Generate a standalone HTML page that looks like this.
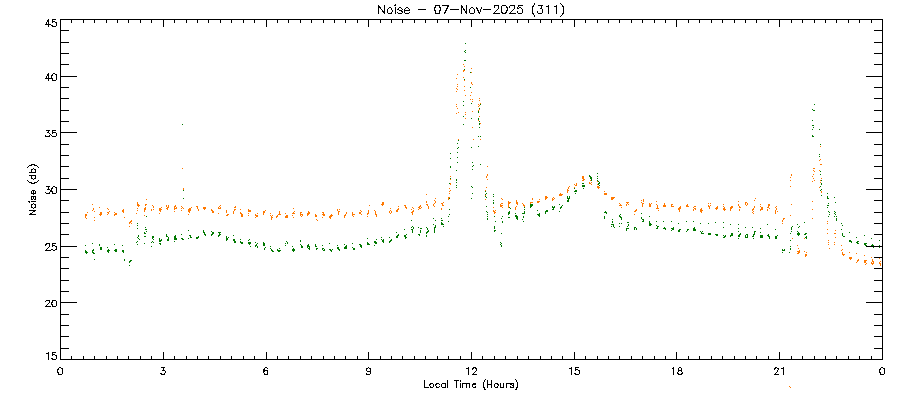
<!DOCTYPE html>
<html><head><meta charset="utf-8"><style>
html,body{margin:0;padding:0;background:#fff;width:900px;height:400px;overflow:hidden}
svg{display:block}
</style></head><body>
<svg width="900" height="400" viewBox="0 0 900 400">
<path d="M60.5,19.5H882.5V359.5H60.5ZM60.5,359.5v-8M60.5,19.5v7M71.5,359.5v-4M71.5,19.5v3M83.5,359.5v-4M83.5,19.5v3M94.5,359.5v-4M94.5,19.5v3M106.5,359.5v-4M106.5,19.5v3M117.5,359.5v-4M117.5,19.5v3M128.5,359.5v-4M128.5,19.5v3M140.5,359.5v-4M140.5,19.5v3M151.5,359.5v-4M151.5,19.5v3M163.5,359.5v-8M163.5,19.5v7M174.5,359.5v-4M174.5,19.5v3M186.5,359.5v-4M186.5,19.5v3M197.5,359.5v-4M197.5,19.5v3M208.5,359.5v-4M208.5,19.5v3M220.5,359.5v-4M220.5,19.5v3M231.5,359.5v-4M231.5,19.5v3M243.5,359.5v-4M243.5,19.5v3M254.5,359.5v-4M254.5,19.5v3M266.5,359.5v-8M266.5,19.5v7M277.5,359.5v-4M277.5,19.5v3M288.5,359.5v-4M288.5,19.5v3M300.5,359.5v-4M300.5,19.5v3M311.5,359.5v-4M311.5,19.5v3M323.5,359.5v-4M323.5,19.5v3M334.5,359.5v-4M334.5,19.5v3M345.5,359.5v-4M345.5,19.5v3M357.5,359.5v-4M357.5,19.5v3M368.5,359.5v-8M368.5,19.5v7M380.5,359.5v-4M380.5,19.5v3M391.5,359.5v-4M391.5,19.5v3M402.5,359.5v-4M402.5,19.5v3M414.5,359.5v-4M414.5,19.5v3M425.5,359.5v-4M425.5,19.5v3M437.5,359.5v-4M437.5,19.5v3M448.5,359.5v-4M448.5,19.5v3M460.5,359.5v-4M460.5,19.5v3M471.5,359.5v-8M471.5,19.5v7M482.5,359.5v-4M482.5,19.5v3M494.5,359.5v-4M494.5,19.5v3M505.5,359.5v-4M505.5,19.5v3M517.5,359.5v-4M517.5,19.5v3M528.5,359.5v-4M528.5,19.5v3M540.5,359.5v-4M540.5,19.5v3M551.5,359.5v-4M551.5,19.5v3M562.5,359.5v-4M562.5,19.5v3M574.5,359.5v-8M574.5,19.5v7M585.5,359.5v-4M585.5,19.5v3M597.5,359.5v-4M597.5,19.5v3M608.5,359.5v-4M608.5,19.5v3M619.5,359.5v-4M619.5,19.5v3M631.5,359.5v-4M631.5,19.5v3M642.5,359.5v-4M642.5,19.5v3M654.5,359.5v-4M654.5,19.5v3M665.5,359.5v-4M665.5,19.5v3M676.5,359.5v-8M676.5,19.5v7M688.5,359.5v-4M688.5,19.5v3M699.5,359.5v-4M699.5,19.5v3M711.5,359.5v-4M711.5,19.5v3M722.5,359.5v-4M722.5,19.5v3M734.5,359.5v-4M734.5,19.5v3M745.5,359.5v-4M745.5,19.5v3M756.5,359.5v-4M756.5,19.5v3M768.5,359.5v-4M768.5,19.5v3M779.5,359.5v-8M779.5,19.5v7M791.5,359.5v-4M791.5,19.5v3M802.5,359.5v-4M802.5,19.5v3M814.5,359.5v-4M814.5,19.5v3M825.5,359.5v-4M825.5,19.5v3M836.5,359.5v-4M836.5,19.5v3M848.5,359.5v-4M848.5,19.5v3M859.5,359.5v-4M859.5,19.5v3M871.5,359.5v-4M871.5,19.5v3M882.5,359.5v-8M882.5,19.5v7M60.5,359.5h16M882.5,359.5h-17M60.5,348.5h8M882.5,348.5h-9M60.5,336.5h8M882.5,336.5h-9M60.5,325.5h8M882.5,325.5h-9M60.5,314.5h8M882.5,314.5h-9M60.5,302.5h16M882.5,302.5h-17M60.5,291.5h8M882.5,291.5h-9M60.5,280.5h8M882.5,280.5h-9M60.5,268.5h8M882.5,268.5h-9M60.5,257.5h8M882.5,257.5h-9M60.5,246.5h16M882.5,246.5h-17M60.5,234.5h8M882.5,234.5h-9M60.5,223.5h8M882.5,223.5h-9M60.5,212.5h8M882.5,212.5h-9M60.5,200.5h8M882.5,200.5h-9M60.5,189.5h16M882.5,189.5h-17M60.5,178.5h8M882.5,178.5h-9M60.5,166.5h8M882.5,166.5h-9M60.5,155.5h8M882.5,155.5h-9M60.5,144.5h8M882.5,144.5h-9M60.5,132.5h16M882.5,132.5h-17M60.5,121.5h8M882.5,121.5h-9M60.5,110.5h8M882.5,110.5h-9M60.5,98.5h8M882.5,98.5h-9M60.5,87.5h8M882.5,87.5h-9M60.5,76.5h16M882.5,76.5h-17M60.5,64.5h8M882.5,64.5h-9M60.5,53.5h8M882.5,53.5h-9M60.5,42.5h8M882.5,42.5h-9M60.5,30.5h8M882.5,30.5h-9M60.5,19.5h16M882.5,19.5h-17" stroke="#000" stroke-width="1" fill="none" shape-rendering="crispEdges"/>
<path d="M59.5,367.5L58.5,368.5L57.5,370.5L57.5,371.5L58.5,373.5L58.5,374.5L59.5,374.5L60.5,374.5L61.5,374.5L62.5,373.5L62.5,371.5L62.5,370.5L62.5,368.5L61.5,368.5L60.5,367.5L59.5,367.5M161.5,367.5L164.5,367.5L162.5,370.5L163.5,370.5L164.5,370.5L165.5,371.5L165.5,372.5L164.5,373.5L164.5,374.5L163.5,374.5L162.5,374.5L161.5,374.5L161.5,373.5L160.5,373.5M267.5,368.5L266.5,367.5L265.5,367.5L264.5,368.5L263.5,370.5L263.5,372.5L264.5,373.5L264.5,374.5L265.5,374.5L266.5,374.5L267.5,374.5L267.5,373.5L267.5,372.5L267.5,371.5L267.5,370.5L266.5,370.5L265.5,370.5L264.5,370.5L264.5,371.5L263.5,372.5M370.5,369.5L370.5,370.5L369.5,371.5L368.5,371.5L367.5,371.5L366.5,370.5L366.5,369.5L366.5,368.5L367.5,368.5L368.5,367.5L369.5,368.5L370.5,368.5L370.5,369.5L370.5,371.5L370.5,373.5L369.5,374.5L368.5,374.5L367.5,374.5L366.5,374.5L366.5,373.5M466.5,368.5L467.5,368.5L468.5,367.5L468.5,374.5M472.5,369.5L472.5,368.5L473.5,368.5L473.5,367.5L475.5,367.5L475.5,368.5L476.5,368.5L476.5,369.5L476.5,370.5L475.5,371.5L472.5,374.5L476.5,374.5M569.5,368.5L570.5,368.5L571.5,367.5L571.5,374.5M578.5,367.5L575.5,367.5L575.5,370.5L576.5,369.5L577.5,369.5L578.5,370.5L579.5,370.5L579.5,371.5L579.5,372.5L579.5,373.5L578.5,374.5L577.5,374.5L576.5,374.5L575.5,374.5L575.5,373.5L574.5,373.5M672.5,368.5L673.5,367.5L673.5,374.5M679.5,367.5L678.5,368.5L678.5,369.5L678.5,370.5L680.5,370.5L681.5,370.5L681.5,371.5L682.5,372.5L682.5,373.5L681.5,373.5L681.5,374.5L680.5,374.5L679.5,374.5L678.5,374.5L678.5,373.5L677.5,373.5L677.5,372.5L678.5,371.5L678.5,370.5L679.5,370.5L680.5,370.5L681.5,369.5L681.5,368.5L680.5,367.5L679.5,367.5M774.5,369.5L774.5,368.5L775.5,368.5L775.5,367.5L776.5,367.5L777.5,368.5L778.5,368.5L778.5,369.5L777.5,370.5L777.5,371.5L774.5,374.5L778.5,374.5M781.5,368.5L782.5,368.5L783.5,367.5L783.5,374.5M881.5,367.5L880.5,368.5L879.5,370.5L879.5,371.5L880.5,373.5L880.5,374.5L881.5,374.5L882.5,374.5L883.5,374.5L884.5,373.5L884.5,371.5L884.5,370.5L884.5,368.5L883.5,368.5L882.5,367.5L881.5,367.5M46.5,353.5L47.5,353.5L48.5,352.5L48.5,359.5M55.5,352.5L52.5,352.5L52.5,355.5L53.5,354.5L54.5,354.5L55.5,355.5L56.5,355.5L56.5,356.5L56.5,357.5L56.5,358.5L55.5,359.5L54.5,359.5L53.5,359.5L52.5,359.5L52.5,358.5L51.5,358.5M45.5,301.5L46.5,300.5L47.5,300.5L48.5,300.5L49.5,300.5L49.5,301.5L49.5,302.5L48.5,303.5L45.5,306.5L50.5,306.5M53.5,300.5L52.5,300.5L52.5,301.5L51.5,303.5L52.5,305.5L52.5,306.5L53.5,306.5L54.5,306.5L55.5,306.5L56.5,305.5L56.5,303.5L56.5,301.5L55.5,300.5L54.5,300.5L53.5,300.5M45.5,245.5L45.5,244.5L46.5,244.5L46.5,243.5L47.5,243.5L48.5,243.5L49.5,243.5L49.5,244.5L49.5,245.5L49.5,246.5L48.5,247.5L45.5,250.5L50.5,250.5M55.5,243.5L52.5,243.5L52.5,246.5L53.5,245.5L54.5,245.5L55.5,246.5L56.5,246.5L56.5,247.5L56.5,248.5L56.5,249.5L55.5,249.5L54.5,250.5L53.5,250.5L52.5,249.5L51.5,249.5M46.5,186.5L49.5,186.5L47.5,189.5L48.5,189.5L49.5,189.5L50.5,190.5L50.5,191.5L49.5,192.5L49.5,193.5L48.5,193.5L47.5,193.5L46.5,193.5L45.5,192.5M53.5,186.5L52.5,187.5L51.5,189.5L51.5,190.5L52.5,192.5L52.5,193.5L53.5,193.5L54.5,193.5L55.5,193.5L56.5,192.5L56.5,190.5L56.5,189.5L56.5,187.5L55.5,187.5L54.5,186.5L53.5,186.5M46.5,130.5L49.5,130.5L47.5,132.5L48.5,132.5L49.5,133.5L50.5,134.5L49.5,135.5L49.5,136.5L48.5,136.5L47.5,136.5L46.5,136.5L45.5,136.5L45.5,135.5M55.5,130.5L52.5,130.5L52.5,133.5L52.5,132.5L53.5,132.5L54.5,132.5L55.5,132.5L56.5,133.5L56.5,134.5L56.5,135.5L55.5,136.5L54.5,136.5L53.5,136.5L52.5,136.5L51.5,135.5M48.5,73.5L45.5,78.5L50.5,78.5M48.5,73.5L48.5,80.5M53.5,73.5L52.5,74.5L51.5,76.5L51.5,77.5L52.5,79.5L52.5,80.5L53.5,80.5L54.5,80.5L55.5,80.5L56.5,79.5L56.5,77.5L56.5,76.5L56.5,74.5L55.5,74.5L54.5,73.5L53.5,73.5M48.5,19.5L45.5,24.5L50.5,24.5M48.5,19.5L48.5,26.5M55.5,19.5L52.5,19.5L52.5,22.5L53.5,21.5L54.5,21.5L55.5,22.5L56.5,22.5L56.5,23.5L56.5,24.5L56.5,25.5L55.5,26.5L54.5,26.5L53.5,26.5L52.5,26.5L52.5,25.5L51.5,25.5M378.5,5.5L378.5,13.5M378.5,5.5L384.5,13.5M384.5,5.5L384.5,13.5M389.5,7.5L388.5,8.5L387.5,9.5L387.5,10.5L387.5,11.5L387.5,12.5L388.5,13.5L389.5,13.5L390.5,13.5L391.5,13.5L391.5,12.5L392.5,11.5L392.5,10.5L391.5,9.5L391.5,8.5L390.5,7.5L389.5,7.5M394.5,5.5L395.5,5.5L395.5,4.5L394.5,5.5M395.5,7.5L395.5,13.5M402.5,9.5L401.5,8.5L400.5,7.5L399.5,7.5L398.5,8.5L397.5,9.5L398.5,9.5L399.5,10.5L401.5,10.5L401.5,11.5L402.5,11.5L402.5,12.5L401.5,13.5L400.5,13.5L399.5,13.5L398.5,13.5L397.5,12.5M404.5,10.5L409.5,10.5L409.5,9.5L408.5,8.5L407.5,7.5L406.5,7.5L405.5,8.5L404.5,9.5L404.5,10.5L404.5,11.5L404.5,12.5L405.5,13.5L406.5,13.5L407.5,13.5L408.5,13.5L409.5,12.5M418.5,9.5L425.5,9.5M437.5,5.5L435.5,5.5L435.5,6.5L434.5,8.5L434.5,9.5L435.5,11.5L435.5,13.5L437.5,13.5L439.5,13.5L439.5,11.5L440.5,9.5L440.5,8.5L439.5,6.5L439.5,5.5L437.5,5.5M448.5,5.5L444.5,13.5M442.5,5.5L448.5,5.5M450.5,9.5L458.5,9.5M461.5,5.5L461.5,13.5M461.5,5.5L466.5,13.5M466.5,5.5L466.5,13.5M471.5,7.5L470.5,8.5L469.5,9.5L469.5,10.5L469.5,11.5L469.5,12.5L470.5,13.5L471.5,13.5L472.5,13.5L473.5,13.5L474.5,12.5L474.5,11.5L474.5,10.5L474.5,9.5L473.5,8.5L472.5,7.5L471.5,7.5M476.5,7.5L479.5,13.5M481.5,7.5L479.5,13.5M483.5,9.5L490.5,9.5M494.5,7.5L494.5,6.5L494.5,5.5L495.5,5.5L497.5,5.5L498.5,5.5L498.5,6.5L498.5,7.5L498.5,8.5L497.5,9.5L493.5,13.5L499.5,13.5M503.5,5.5L502.5,5.5L501.5,6.5L501.5,8.5L501.5,9.5L501.5,11.5L502.5,13.5L503.5,13.5L504.5,13.5L505.5,13.5L506.5,11.5L507.5,9.5L507.5,8.5L506.5,6.5L505.5,5.5L504.5,5.5L503.5,5.5M509.5,7.5L509.5,6.5L510.5,5.5L511.5,5.5L513.5,5.5L514.5,5.5L514.5,6.5L514.5,7.5L514.5,8.5L513.5,9.5L509.5,13.5L515.5,13.5M522.5,5.5L518.5,5.5L517.5,8.5L518.5,8.5L519.5,7.5L520.5,7.5L521.5,8.5L522.5,9.5L522.5,10.5L522.5,11.5L522.5,12.5L521.5,13.5L520.5,13.5L519.5,13.5L518.5,13.5L517.5,12.5L517.5,11.5M534.5,3.5L534.5,4.5L533.5,5.5L532.5,7.5L532.5,9.5L532.5,10.5L532.5,12.5L533.5,14.5L534.5,15.5L534.5,16.5M538.5,5.5L542.5,5.5L540.5,8.5L541.5,8.5L542.5,9.5L542.5,10.5L542.5,11.5L542.5,12.5L541.5,13.5L540.5,13.5L539.5,13.5L538.5,13.5L537.5,12.5L537.5,11.5M546.5,6.5L547.5,6.5L548.5,5.5L548.5,13.5M554.5,6.5L555.5,6.5L556.5,5.5L556.5,13.5M560.5,3.5L561.5,4.5L562.5,5.5L563.5,7.5L563.5,9.5L563.5,10.5L563.5,12.5L562.5,14.5L561.5,15.5L560.5,16.5M424.5,380.5L424.5,387.5M424.5,387.5L428.5,387.5M431.5,383.5L430.5,383.5L430.5,384.5L429.5,384.5L429.5,385.5L430.5,386.5L430.5,387.5L431.5,387.5L432.5,387.5L433.5,386.5L433.5,385.5L433.5,384.5L432.5,383.5L431.5,383.5M439.5,384.5L438.5,383.5L437.5,383.5L436.5,383.5L436.5,384.5L435.5,384.5L435.5,385.5L436.5,386.5L436.5,387.5L437.5,387.5L438.5,387.5L439.5,386.5M445.5,383.5L445.5,387.5M445.5,384.5L444.5,383.5L443.5,383.5L442.5,383.5L441.5,384.5L441.5,385.5L441.5,386.5L442.5,387.5L443.5,387.5L444.5,387.5L445.5,386.5M447.5,380.5L447.5,387.5M456.5,380.5L456.5,387.5M454.5,380.5L458.5,380.5M460.5,380.5L460.5,381.5L460.5,380.5M460.5,383.5L460.5,387.5M462.5,383.5L462.5,387.5M462.5,384.5L463.5,383.5L464.5,383.5L465.5,383.5L466.5,383.5L466.5,384.5L466.5,387.5M466.5,384.5L467.5,383.5L468.5,383.5L469.5,383.5L469.5,384.5L469.5,387.5M472.5,384.5L475.5,384.5L475.5,383.5L474.5,383.5L473.5,383.5L472.5,384.5L472.5,385.5L472.5,386.5L473.5,387.5L474.5,387.5L475.5,387.5L475.5,386.5M485.5,379.5L484.5,380.5L484.5,381.5L483.5,382.5L483.5,384.5L483.5,385.5L483.5,386.5L484.5,388.5L484.5,389.5L485.5,389.5M487.5,380.5L487.5,387.5M491.5,380.5L491.5,387.5M487.5,384.5L491.5,384.5M495.5,383.5L494.5,384.5L494.5,385.5L494.5,386.5L495.5,387.5L496.5,387.5L497.5,387.5L497.5,386.5L498.5,385.5L498.5,384.5L497.5,384.5L497.5,383.5L496.5,383.5L495.5,383.5M500.5,383.5L500.5,386.5L500.5,387.5L501.5,387.5L502.5,387.5L503.5,387.5L503.5,386.5M503.5,383.5L503.5,387.5M506.5,383.5L506.5,387.5M506.5,384.5L507.5,383.5L508.5,383.5L509.5,383.5M513.5,384.5L513.5,383.5L512.5,383.5L511.5,383.5L510.5,383.5L510.5,384.5L511.5,384.5L512.5,385.5L513.5,385.5L513.5,386.5L513.5,387.5L512.5,387.5L511.5,387.5L510.5,387.5L510.5,386.5M515.5,379.5L516.5,380.5L516.5,381.5L517.5,382.5L517.5,384.5L517.5,385.5L517.5,386.5L516.5,388.5L516.5,389.5L515.5,389.5M29.5,214.5L35.5,214.5M29.5,214.5L35.5,210.5M29.5,210.5L35.5,210.5M31.5,206.5L31.5,207.5L32.5,207.5L33.5,208.5L34.5,207.5L35.5,207.5L35.5,206.5L35.5,205.5L35.5,204.5L34.5,204.5L33.5,203.5L32.5,204.5L31.5,204.5L31.5,205.5L31.5,206.5M29.5,202.5L29.5,201.5L28.5,201.5L29.5,202.5M31.5,201.5L35.5,201.5M32.5,196.5L31.5,196.5L31.5,197.5L31.5,198.5L31.5,199.5L32.5,199.5L33.5,198.5L33.5,197.5L33.5,196.5L34.5,196.5L35.5,196.5L35.5,197.5L35.5,198.5L35.5,199.5L34.5,199.5M33.5,194.5L33.5,190.5L32.5,190.5L31.5,191.5L31.5,192.5L31.5,193.5L32.5,193.5L33.5,194.5L34.5,193.5L35.5,193.5L35.5,192.5L35.5,191.5L34.5,190.5M27.5,180.5L28.5,181.5L29.5,182.5L30.5,182.5L32.5,183.5L33.5,183.5L35.5,182.5L36.5,182.5L37.5,181.5L38.5,180.5M29.5,175.5L35.5,175.5M32.5,175.5L31.5,175.5L31.5,176.5L31.5,177.5L31.5,178.5L32.5,178.5L33.5,179.5L34.5,178.5L35.5,178.5L35.5,177.5L35.5,176.5L35.5,175.5L34.5,175.5M29.5,172.5L35.5,172.5M32.5,172.5L31.5,172.5L31.5,171.5L31.5,170.5L31.5,169.5L32.5,169.5L33.5,168.5L34.5,169.5L35.5,169.5L35.5,170.5L35.5,171.5L35.5,172.5L34.5,172.5M27.5,167.5L28.5,166.5L29.5,165.5L30.5,165.5L32.5,164.5L33.5,164.5L35.5,165.5L36.5,165.5L37.5,166.5L38.5,167.5" stroke="#000" stroke-width="1" fill="none" shape-rendering="crispEdges" stroke-linecap="square"/>
<path d="M85,214h1v1h-1zM85,215h1v1h-1zM85,216h1v1h-1zM85,217h1v1h-1zM86,214h1v1h-1zM86,215h1v1h-1zM86,218h1v1h-1zM87,212h1v1h-1zM92,204h1v1h-1zM92,210h1v1h-1zM93,208h1v1h-1zM93,209h1v1h-1zM94,211h1v1h-1zM94,217h1v1h-1zM94,220h1v1h-1zM99,207h1v1h-1zM99,214h1v1h-1zM100,212h1v1h-1zM100,213h1v1h-1zM100,214h1v1h-1zM100,215h1v1h-1zM101,212h1v1h-1zM101,213h1v1h-1zM101,214h1v1h-1zM107,208h1v1h-1zM107,212h1v1h-1zM107,214h1v1h-1zM108,209h1v1h-1zM108,212h1v1h-1zM108,213h1v1h-1zM109,211h1v1h-1zM114,212h1v1h-1zM114,214h1v1h-1zM114,215h1v1h-1zM115,213h1v1h-1zM115,214h1v1h-1zM116,213h1v1h-1zM116,214h1v1h-1zM122,210h1v1h-1zM122,211h1v1h-1zM123,209h1v1h-1zM123,210h1v1h-1zM123,211h1v1h-1zM123,212h1v1h-1zM124,217h1v1h-1zM129,222h1v1h-1zM129,223h1v1h-1zM129,226h1v1h-1zM130,221h1v1h-1zM130,222h1v1h-1zM131,220h1v1h-1zM131,221h1v1h-1zM131,223h1v1h-1zM136,213h1v1h-1zM137,202h1v1h-1zM137,203h1v1h-1zM137,204h1v1h-1zM137,205h1v1h-1zM137,208h1v1h-1zM137,210h1v1h-1zM138,204h1v1h-1zM138,205h1v1h-1zM138,206h1v1h-1zM139,205h1v1h-1zM144,208h1v1h-1zM144,209h1v1h-1zM144,210h1v1h-1zM144,211h1v1h-1zM144,215h1v1h-1zM145,204h1v1h-1zM145,205h1v1h-1zM145,207h1v1h-1zM145,208h1v1h-1zM145,209h1v1h-1zM146,199h1v1h-1zM146,204h1v1h-1zM151,209h1v1h-1zM151,210h1v1h-1zM152,205h1v1h-1zM153,206h1v1h-1zM153,207h1v1h-1zM153,209h1v1h-1zM159,208h1v1h-1zM159,209h1v1h-1zM159,210h1v1h-1zM159,213h1v1h-1zM160,208h1v1h-1zM160,209h1v1h-1zM160,210h1v1h-1zM160,211h1v1h-1zM161,207h1v1h-1zM161,209h1v1h-1zM166,205h1v1h-1zM166,206h1v1h-1zM166,208h1v1h-1zM167,207h1v1h-1zM167,208h1v1h-1zM167,209h1v1h-1zM168,205h1v1h-1zM168,206h1v1h-1zM168,207h1v1h-1zM174,206h1v1h-1zM174,207h1v1h-1zM174,208h1v1h-1zM174,209h1v1h-1zM174,211h1v1h-1zM175,205h1v1h-1zM175,206h1v1h-1zM175,208h1v1h-1zM176,207h1v1h-1zM176,208h1v1h-1zM181,206h1v1h-1zM181,208h1v1h-1zM181,210h1v1h-1zM182,168h1v1h-1zM182,207h1v1h-1zM183,188h1v1h-1zM183,189h1v1h-1zM183,208h1v1h-1zM188,209h1v1h-1zM188,210h1v1h-1zM188,211h1v1h-1zM188,214h1v1h-1zM189,208h1v1h-1zM189,209h1v1h-1zM189,210h1v1h-1zM189,211h1v1h-1zM189,212h1v1h-1zM190,208h1v1h-1zM190,209h1v1h-1zM190,210h1v1h-1zM191,207h1v1h-1zM196,206h1v1h-1zM197,206h1v1h-1zM197,207h1v1h-1zM197,208h1v1h-1zM198,209h1v1h-1zM198,210h1v1h-1zM203,207h1v1h-1zM203,208h1v1h-1zM204,207h1v1h-1zM204,208h1v1h-1zM204,209h1v1h-1zM205,207h1v1h-1zM205,208h1v1h-1zM211,209h1v1h-1zM211,210h1v1h-1zM212,210h1v1h-1zM212,211h1v1h-1zM212,212h1v1h-1zM213,211h1v1h-1zM213,212h1v1h-1zM218,207h1v1h-1zM218,208h1v1h-1zM218,213h1v1h-1zM219,206h1v1h-1zM219,208h1v1h-1zM220,205h1v1h-1zM220,207h1v1h-1zM220,208h1v1h-1zM226,210h1v1h-1zM226,211h1v1h-1zM226,212h1v1h-1zM226,215h1v1h-1zM227,214h1v1h-1zM227,215h1v1h-1zM228,214h1v1h-1zM233,211h1v1h-1zM233,212h1v1h-1zM233,213h1v1h-1zM234,207h1v1h-1zM234,209h1v1h-1zM234,210h1v1h-1zM235,206h1v1h-1zM235,207h1v1h-1zM235,209h1v1h-1zM240,209h1v1h-1zM240,212h1v1h-1zM240,213h1v1h-1zM241,213h1v1h-1zM241,214h1v1h-1zM241,215h1v1h-1zM241,216h1v1h-1zM242,214h1v1h-1zM242,215h1v1h-1zM242,216h1v1h-1zM248,209h1v1h-1zM248,210h1v1h-1zM248,211h1v1h-1zM248,213h1v1h-1zM248,215h1v1h-1zM249,210h1v1h-1zM249,211h1v1h-1zM250,210h1v1h-1zM250,211h1v1h-1zM255,214h1v1h-1zM255,215h1v1h-1zM255,217h1v1h-1zM256,215h1v1h-1zM256,216h1v1h-1zM257,213h1v1h-1zM257,215h1v1h-1zM257,216h1v1h-1zM263,211h1v1h-1zM263,212h1v1h-1zM263,213h1v1h-1zM263,214h1v1h-1zM264,211h1v1h-1zM264,212h1v1h-1zM265,210h1v1h-1zM270,213h1v1h-1zM270,215h1v1h-1zM271,216h1v1h-1zM271,217h1v1h-1zM271,218h1v1h-1zM271,219h1v1h-1zM272,215h1v1h-1zM272,217h1v1h-1zM276,216h1v1h-1zM276,217h1v1h-1zM277,215h1v1h-1zM277,216h1v1h-1zM278,214h1v1h-1zM279,211h1v1h-1zM279,212h1v1h-1zM279,213h1v1h-1zM279,214h1v1h-1zM280,214h1v1h-1zM285,213h1v1h-1zM285,216h1v1h-1zM285,217h1v1h-1zM286,215h1v1h-1zM286,216h1v1h-1zM286,217h1v1h-1zM287,215h1v1h-1zM287,216h1v1h-1zM287,217h1v1h-1zM292,213h1v1h-1zM292,215h1v1h-1zM293,208h1v1h-1zM293,212h1v1h-1zM293,213h1v1h-1zM293,217h1v1h-1zM294,211h1v1h-1zM294,213h1v1h-1zM300,212h1v1h-1zM300,213h1v1h-1zM300,214h1v1h-1zM300,215h1v1h-1zM301,212h1v1h-1zM301,214h1v1h-1zM301,216h1v1h-1zM302,214h1v1h-1zM302,215h1v1h-1zM307,213h1v1h-1zM307,214h1v1h-1zM307,215h1v1h-1zM308,211h1v1h-1zM308,212h1v1h-1zM308,213h1v1h-1zM308,214h1v1h-1zM309,212h1v1h-1zM309,213h1v1h-1zM315,214h1v1h-1zM315,215h1v1h-1zM315,216h1v1h-1zM316,215h1v1h-1zM316,216h1v1h-1zM316,219h1v1h-1zM317,220h1v1h-1zM322,212h1v1h-1zM322,214h1v1h-1zM322,217h1v1h-1zM323,212h1v1h-1zM323,213h1v1h-1zM323,214h1v1h-1zM323,215h1v1h-1zM324,214h1v1h-1zM324,215h1v1h-1zM329,216h1v1h-1zM329,217h1v1h-1zM330,215h1v1h-1zM330,216h1v1h-1zM330,217h1v1h-1zM330,218h1v1h-1zM331,214h1v1h-1zM331,215h1v1h-1zM331,216h1v1h-1zM332,215h1v1h-1zM337,209h1v1h-1zM337,210h1v1h-1zM338,211h1v1h-1zM338,212h1v1h-1zM338,213h1v1h-1zM338,214h1v1h-1zM339,209h1v1h-1zM339,211h1v1h-1zM344,215h1v1h-1zM344,216h1v1h-1zM344,217h1v1h-1zM345,214h1v1h-1zM345,215h1v1h-1zM346,212h1v1h-1zM346,213h1v1h-1zM352,212h1v1h-1zM352,213h1v1h-1zM352,214h1v1h-1zM352,215h1v1h-1zM353,214h1v1h-1zM353,216h1v1h-1zM354,214h1v1h-1zM359,212h1v1h-1zM359,213h1v1h-1zM360,210h1v1h-1zM360,212h1v1h-1zM360,213h1v1h-1zM361,211h1v1h-1zM361,214h1v1h-1zM367,213h1v1h-1zM367,214h1v1h-1zM367,216h1v1h-1zM368,210h1v1h-1zM368,211h1v1h-1zM368,212h1v1h-1zM368,213h1v1h-1zM369,205h1v1h-1zM374,210h1v1h-1zM375,211h1v1h-1zM375,212h1v1h-1zM375,213h1v1h-1zM375,214h1v1h-1zM376,214h1v1h-1zM376,215h1v1h-1zM376,216h1v1h-1zM381,204h1v1h-1zM382,202h1v1h-1zM382,203h1v1h-1zM382,204h1v1h-1zM382,205h1v1h-1zM383,202h1v1h-1zM383,203h1v1h-1zM383,204h1v1h-1zM389,211h1v1h-1zM389,212h1v1h-1zM390,208h1v1h-1zM390,210h1v1h-1zM390,213h1v1h-1zM391,211h1v1h-1zM391,212h1v1h-1zM396,210h1v1h-1zM396,211h1v1h-1zM397,209h1v1h-1zM397,210h1v1h-1zM397,211h1v1h-1zM398,206h1v1h-1zM398,208h1v1h-1zM398,209h1v1h-1zM404,205h1v1h-1zM405,205h1v1h-1zM405,206h1v1h-1zM405,207h1v1h-1zM406,207h1v1h-1zM406,208h1v1h-1zM411,209h1v1h-1zM411,212h1v1h-1zM412,207h1v1h-1zM412,211h1v1h-1zM412,212h1v1h-1zM412,213h1v1h-1zM412,214h1v1h-1zM413,208h1v1h-1zM413,210h1v1h-1zM413,211h1v1h-1zM418,207h1v1h-1zM418,209h1v1h-1zM419,206h1v1h-1zM419,207h1v1h-1zM419,208h1v1h-1zM420,205h1v1h-1zM420,206h1v1h-1zM420,208h1v1h-1zM421,207h1v1h-1zM426,194h1v1h-1zM426,201h1v1h-1zM426,202h1v1h-1zM426,204h1v1h-1zM427,204h1v1h-1zM427,205h1v1h-1zM428,206h1v1h-1zM428,207h1v1h-1zM428,208h1v1h-1zM433,204h1v1h-1zM433,205h1v1h-1zM434,200h1v1h-1zM434,203h1v1h-1zM434,206h1v1h-1zM435,198h1v1h-1zM435,201h1v1h-1zM435,202h1v1h-1zM441,203h1v1h-1zM441,208h1v1h-1zM441,209h1v1h-1zM442,203h1v1h-1zM442,204h1v1h-1zM442,205h1v1h-1zM443,202h1v1h-1zM443,205h1v1h-1zM448,197h1v1h-1zM448,198h1v1h-1zM448,199h1v1h-1zM449,188h1v1h-1zM449,191h1v1h-1zM449,193h1v1h-1zM449,197h1v1h-1zM450,176h1v1h-1zM450,179h1v1h-1zM450,183h1v1h-1zM450,184h1v1h-1zM450,190h1v1h-1zM456,78h1v1h-1zM456,88h1v1h-1zM456,91h1v1h-1zM456,104h1v1h-1zM456,106h1v1h-1zM456,113h1v1h-1zM457,74h1v1h-1zM457,84h1v1h-1zM457,86h1v1h-1zM457,89h1v1h-1zM457,108h1v1h-1zM458,112h1v1h-1zM458,139h1v1h-1zM463,64h1v1h-1zM463,70h1v1h-1zM463,71h1v1h-1zM463,77h1v1h-1zM464,66h1v1h-1zM464,70h1v1h-1zM464,80h1v1h-1zM464,86h1v1h-1zM464,90h1v1h-1zM465,95h1v1h-1zM465,112h1v1h-1zM465,114h1v1h-1zM465,118h1v1h-1zM470,95h1v1h-1zM470,99h1v1h-1zM471,68h1v1h-1zM471,72h1v1h-1zM471,82h1v1h-1zM471,83h1v1h-1zM471,92h1v1h-1zM472,84h1v1h-1zM472,99h1v1h-1zM472,101h1v1h-1zM472,111h1v1h-1zM472,127h1v1h-1zM473,139h1v1h-1zM478,104h1v1h-1zM478,106h1v1h-1zM478,110h1v1h-1zM478,112h1v1h-1zM478,120h1v1h-1zM479,98h1v1h-1zM479,100h1v1h-1zM479,105h1v1h-1zM479,109h1v1h-1zM479,116h1v1h-1zM480,103h1v1h-1zM480,123h1v1h-1zM480,139h1v1h-1zM485,190h1v1h-1zM485,195h1v1h-1zM485,199h1v1h-1zM486,176h1v1h-1zM486,177h1v1h-1zM486,187h1v1h-1zM487,166h1v1h-1zM487,174h1v1h-1zM487,175h1v1h-1zM487,179h1v1h-1zM493,207h1v1h-1zM493,210h1v1h-1zM493,211h1v1h-1zM494,211h1v1h-1zM494,212h1v1h-1zM494,213h1v1h-1zM495,210h1v1h-1zM495,212h1v1h-1zM500,204h1v1h-1zM500,205h1v1h-1zM500,206h1v1h-1zM501,198h1v1h-1zM501,203h1v1h-1zM501,205h1v1h-1zM501,206h1v1h-1zM502,199h1v1h-1zM502,203h1v1h-1zM502,205h1v1h-1zM502,207h1v1h-1zM508,201h1v1h-1zM508,202h1v1h-1zM508,203h1v1h-1zM508,204h1v1h-1zM508,205h1v1h-1zM508,206h1v1h-1zM508,207h1v1h-1zM509,202h1v1h-1zM509,203h1v1h-1zM510,202h1v1h-1zM515,207h1v1h-1zM515,208h1v1h-1zM515,209h1v1h-1zM516,200h1v1h-1zM516,201h1v1h-1zM516,202h1v1h-1zM516,203h1v1h-1zM516,206h1v1h-1zM517,202h1v1h-1zM517,203h1v1h-1zM517,204h1v1h-1zM522,203h1v1h-1zM523,204h1v1h-1zM523,205h1v1h-1zM524,205h1v1h-1zM524,206h1v1h-1zM530,202h1v1h-1zM530,203h1v1h-1zM531,202h1v1h-1zM532,198h1v1h-1zM532,199h1v1h-1zM532,202h1v1h-1zM537,201h1v1h-1zM537,202h1v1h-1zM538,201h1v1h-1zM538,202h1v1h-1zM539,199h1v1h-1zM539,201h1v1h-1zM545,196h1v1h-1zM545,197h1v1h-1zM545,198h1v1h-1zM545,199h1v1h-1zM546,196h1v1h-1zM546,197h1v1h-1zM546,198h1v1h-1zM547,197h1v1h-1zM552,198h1v1h-1zM552,199h1v1h-1zM552,200h1v1h-1zM553,197h1v1h-1zM553,199h1v1h-1zM554,198h1v1h-1zM559,194h1v1h-1zM559,195h1v1h-1zM560,193h1v1h-1zM560,194h1v1h-1zM560,195h1v1h-1zM561,194h1v1h-1zM561,195h1v1h-1zM562,194h1v1h-1zM567,189h1v1h-1zM567,190h1v1h-1zM567,191h1v1h-1zM567,192h1v1h-1zM568,187h1v1h-1zM568,188h1v1h-1zM568,190h1v1h-1zM569,186h1v1h-1zM574,184h1v1h-1zM574,187h1v1h-1zM575,185h1v1h-1zM576,183h1v1h-1zM576,184h1v1h-1zM576,185h1v1h-1zM582,176h1v1h-1zM582,177h1v1h-1zM582,178h1v1h-1zM582,180h1v1h-1zM583,176h1v1h-1zM583,177h1v1h-1zM583,178h1v1h-1zM583,179h1v1h-1zM583,180h1v1h-1zM584,179h1v1h-1zM589,182h1v1h-1zM589,183h1v1h-1zM590,180h1v1h-1zM590,183h1v1h-1zM591,182h1v1h-1zM591,184h1v1h-1zM597,181h1v1h-1zM597,184h1v1h-1zM597,186h1v1h-1zM597,187h1v1h-1zM598,186h1v1h-1zM598,187h1v1h-1zM598,188h1v1h-1zM599,187h1v1h-1zM604,191h1v1h-1zM604,193h1v1h-1zM604,194h1v1h-1zM605,193h1v1h-1zM605,194h1v1h-1zM606,193h1v1h-1zM606,194h1v1h-1zM611,197h1v1h-1zM611,198h1v1h-1zM611,199h1v1h-1zM612,197h1v1h-1zM612,198h1v1h-1zM612,199h1v1h-1zM613,197h1v1h-1zM613,198h1v1h-1zM614,197h1v1h-1zM619,203h1v1h-1zM619,205h1v1h-1zM620,204h1v1h-1zM620,205h1v1h-1zM621,205h1v1h-1zM621,207h1v1h-1zM626,202h1v1h-1zM626,204h1v1h-1zM626,205h1v1h-1zM627,202h1v1h-1zM627,203h1v1h-1zM628,202h1v1h-1zM628,204h1v1h-1zM634,211h1v1h-1zM634,214h1v1h-1zM635,210h1v1h-1zM635,211h1v1h-1zM636,209h1v1h-1zM636,210h1v1h-1zM641,200h1v1h-1zM641,202h1v1h-1zM642,203h1v1h-1zM642,204h1v1h-1zM642,205h1v1h-1zM642,206h1v1h-1zM643,199h1v1h-1zM643,200h1v1h-1zM643,201h1v1h-1zM643,203h1v1h-1zM649,203h1v1h-1zM649,204h1v1h-1zM649,205h1v1h-1zM649,206h1v1h-1zM650,204h1v1h-1zM650,205h1v1h-1zM650,206h1v1h-1zM651,203h1v1h-1zM656,201h1v1h-1zM656,204h1v1h-1zM656,208h1v1h-1zM657,205h1v1h-1zM657,206h1v1h-1zM657,207h1v1h-1zM657,208h1v1h-1zM658,208h1v1h-1zM658,210h1v1h-1zM663,205h1v1h-1zM663,206h1v1h-1zM664,203h1v1h-1zM664,204h1v1h-1zM664,205h1v1h-1zM664,206h1v1h-1zM665,205h1v1h-1zM665,206h1v1h-1zM671,204h1v1h-1zM671,205h1v1h-1zM671,206h1v1h-1zM672,204h1v1h-1zM672,206h1v1h-1zM673,206h1v1h-1zM678,208h1v1h-1zM678,209h1v1h-1zM679,207h1v1h-1zM679,208h1v1h-1zM679,209h1v1h-1zM679,210h1v1h-1zM679,211h1v1h-1zM680,206h1v1h-1zM680,207h1v1h-1zM680,208h1v1h-1zM686,205h1v1h-1zM686,206h1v1h-1zM687,204h1v1h-1zM687,205h1v1h-1zM687,206h1v1h-1zM688,206h1v1h-1zM693,207h1v1h-1zM693,209h1v1h-1zM693,210h1v1h-1zM694,206h1v1h-1zM694,208h1v1h-1zM695,206h1v1h-1zM695,208h1v1h-1zM695,209h1v1h-1zM700,209h1v1h-1zM700,210h1v1h-1zM700,211h1v1h-1zM701,208h1v1h-1zM701,209h1v1h-1zM701,210h1v1h-1zM701,211h1v1h-1zM701,212h1v1h-1zM702,210h1v1h-1zM708,203h1v1h-1zM708,205h1v1h-1zM708,206h1v1h-1zM709,206h1v1h-1zM709,207h1v1h-1zM709,208h1v1h-1zM710,203h1v1h-1zM710,205h1v1h-1zM715,208h1v1h-1zM716,207h1v1h-1zM716,208h1v1h-1zM716,209h1v1h-1zM717,206h1v1h-1zM717,207h1v1h-1zM717,208h1v1h-1zM723,204h1v1h-1zM723,206h1v1h-1zM723,208h1v1h-1zM723,209h1v1h-1zM724,207h1v1h-1zM724,208h1v1h-1zM724,209h1v1h-1zM724,210h1v1h-1zM725,209h1v1h-1zM730,207h1v1h-1zM730,208h1v1h-1zM730,209h1v1h-1zM730,210h1v1h-1zM731,206h1v1h-1zM731,207h1v1h-1zM731,208h1v1h-1zM732,206h1v1h-1zM732,207h1v1h-1zM738,201h1v1h-1zM738,204h1v1h-1zM738,205h1v1h-1zM739,206h1v1h-1zM739,207h1v1h-1zM739,209h1v1h-1zM739,210h1v1h-1zM740,207h1v1h-1zM745,202h1v1h-1zM745,203h1v1h-1zM745,204h1v1h-1zM746,202h1v1h-1zM746,205h1v1h-1zM747,203h1v1h-1zM747,204h1v1h-1zM752,209h1v1h-1zM752,210h1v1h-1zM752,212h1v1h-1zM753,208h1v1h-1zM753,209h1v1h-1zM753,211h1v1h-1zM753,213h1v1h-1zM754,200h1v1h-1zM754,206h1v1h-1zM754,207h1v1h-1zM755,198h1v1h-1zM760,204h1v1h-1zM760,206h1v1h-1zM760,209h1v1h-1zM760,210h1v1h-1zM761,207h1v1h-1zM761,208h1v1h-1zM761,209h1v1h-1zM762,207h1v1h-1zM762,208h1v1h-1zM762,209h1v1h-1zM767,207h1v1h-1zM767,209h1v1h-1zM767,210h1v1h-1zM768,204h1v1h-1zM768,205h1v1h-1zM768,206h1v1h-1zM768,207h1v1h-1zM769,204h1v1h-1zM769,205h1v1h-1zM769,208h1v1h-1zM775,207h1v1h-1zM775,210h1v1h-1zM775,211h1v1h-1zM775,212h1v1h-1zM775,213h1v1h-1zM776,206h1v1h-1zM776,208h1v1h-1zM776,209h1v1h-1zM777,211h1v1h-1zM782,220h1v1h-1zM782,221h1v1h-1zM782,223h1v1h-1zM783,218h1v1h-1zM783,219h1v1h-1zM784,218h1v1h-1zM789,386h1v1h-1zM790,177h1v1h-1zM790,180h1v1h-1zM790,186h1v1h-1zM790,215h1v1h-1zM790,387h1v1h-1zM791,174h1v1h-1zM791,175h1v1h-1zM791,204h1v1h-1zM792,238h1v1h-1zM797,245h1v1h-1zM797,251h1v1h-1zM797,253h1v1h-1zM798,248h1v1h-1zM798,251h1v1h-1zM798,252h1v1h-1zM798,253h1v1h-1zM799,250h1v1h-1zM799,251h1v1h-1zM799,252h1v1h-1zM804,238h1v1h-1zM804,251h1v1h-1zM805,254h1v1h-1zM805,255h1v1h-1zM805,256h1v1h-1zM806,252h1v1h-1zM806,254h1v1h-1zM806,255h1v1h-1zM812,176h1v1h-1zM812,181h1v1h-1zM812,201h1v1h-1zM812,209h1v1h-1zM812,218h1v1h-1zM813,168h1v1h-1zM813,170h1v1h-1zM813,174h1v1h-1zM813,178h1v1h-1zM814,168h1v1h-1zM814,171h1v1h-1zM814,180h1v1h-1zM819,160h1v1h-1zM819,170h1v1h-1zM819,187h1v1h-1zM820,146h1v1h-1zM820,159h1v1h-1zM820,164h1v1h-1zM820,180h1v1h-1zM820,182h1v1h-1zM821,164h1v1h-1zM821,178h1v1h-1zM821,191h1v1h-1zM821,192h1v1h-1zM827,221h1v1h-1zM827,223h1v1h-1zM827,229h1v1h-1zM827,233h1v1h-1zM828,240h1v1h-1zM828,242h1v1h-1zM828,244h1v1h-1zM829,248h1v1h-1zM834,233h1v1h-1zM834,242h1v1h-1zM834,244h1v1h-1zM835,230h1v1h-1zM835,233h1v1h-1zM835,237h1v1h-1zM841,245h1v1h-1zM841,250h1v1h-1zM842,249h1v1h-1zM842,252h1v1h-1zM842,253h1v1h-1zM842,254h1v1h-1zM843,254h1v1h-1zM843,255h1v1h-1zM844,254h1v1h-1zM849,252h1v1h-1zM849,257h1v1h-1zM849,258h1v1h-1zM850,257h1v1h-1zM850,258h1v1h-1zM850,259h1v1h-1zM851,257h1v1h-1zM851,258h1v1h-1zM856,253h1v1h-1zM856,262h1v1h-1zM857,260h1v1h-1zM857,261h1v1h-1zM858,259h1v1h-1zM858,260h1v1h-1zM864,255h1v1h-1zM864,260h1v1h-1zM864,261h1v1h-1zM864,262h1v1h-1zM865,260h1v1h-1zM865,261h1v1h-1zM865,262h1v1h-1zM865,264h1v1h-1zM866,260h1v1h-1zM866,263h1v1h-1zM871,257h1v1h-1zM871,262h1v1h-1zM871,263h1v1h-1zM872,259h1v1h-1zM872,260h1v1h-1zM872,261h1v1h-1zM872,263h1v1h-1zM872,264h1v1h-1zM873,261h1v1h-1zM873,262h1v1h-1zM873,263h1v1h-1zM879,258h1v1h-1zM879,262h1v1h-1zM879,263h1v1h-1zM880,261h1v1h-1zM880,263h1v1h-1zM880,264h1v1h-1zM880,265h1v1h-1z" fill="#ff7800" shape-rendering="crispEdges"/>
<path d="M85,245h1v1h-1zM85,250h1v1h-1zM85,251h1v1h-1zM85,252h1v1h-1zM86,251h1v1h-1zM86,252h1v1h-1zM86,253h1v1h-1zM87,252h1v1h-1zM92,243h1v1h-1zM92,250h1v1h-1zM92,251h1v1h-1zM92,252h1v1h-1zM93,249h1v1h-1zM93,250h1v1h-1zM93,252h1v1h-1zM93,253h1v1h-1zM94,253h1v1h-1zM94,259h1v1h-1zM99,244h1v1h-1zM99,245h1v1h-1zM100,247h1v1h-1zM100,248h1v1h-1zM100,249h1v1h-1zM101,247h1v1h-1zM101,248h1v1h-1zM101,249h1v1h-1zM107,247h1v1h-1zM107,250h1v1h-1zM107,251h1v1h-1zM108,249h1v1h-1zM108,250h1v1h-1zM108,251h1v1h-1zM108,252h1v1h-1zM109,250h1v1h-1zM114,244h1v1h-1zM114,250h1v1h-1zM115,249h1v1h-1zM115,250h1v1h-1zM115,251h1v1h-1zM116,249h1v1h-1zM116,250h1v1h-1zM116,251h1v1h-1zM122,245h1v1h-1zM122,250h1v1h-1zM122,251h1v1h-1zM123,250h1v1h-1zM123,251h1v1h-1zM123,252h1v1h-1zM124,259h1v1h-1zM124,260h1v1h-1zM129,261h1v1h-1zM129,262h1v1h-1zM129,265h1v1h-1zM130,260h1v1h-1zM130,261h1v1h-1zM131,260h1v1h-1zM136,242h1v1h-1zM137,223h1v1h-1zM137,225h1v1h-1zM137,228h1v1h-1zM137,237h1v1h-1zM137,241h1v1h-1zM137,244h1v1h-1zM138,235h1v1h-1zM138,236h1v1h-1zM138,238h1v1h-1zM139,239h1v1h-1zM144,232h1v1h-1zM144,233h1v1h-1zM144,236h1v1h-1zM144,243h1v1h-1zM145,227h1v1h-1zM145,229h1v1h-1zM145,233h1v1h-1zM145,236h1v1h-1zM146,216h1v1h-1zM146,229h1v1h-1zM146,231h1v1h-1zM151,242h1v1h-1zM151,246h1v1h-1zM152,236h1v1h-1zM152,237h1v1h-1zM152,238h1v1h-1zM152,241h1v1h-1zM153,236h1v1h-1zM153,237h1v1h-1zM153,239h1v1h-1zM153,242h1v1h-1zM159,238h1v1h-1zM159,239h1v1h-1zM159,240h1v1h-1zM159,241h1v1h-1zM159,243h1v1h-1zM160,240h1v1h-1zM160,241h1v1h-1zM160,243h1v1h-1zM160,244h1v1h-1zM161,239h1v1h-1zM161,240h1v1h-1zM166,234h1v1h-1zM166,235h1v1h-1zM166,236h1v1h-1zM167,236h1v1h-1zM167,239h1v1h-1zM167,240h1v1h-1zM168,237h1v1h-1zM168,238h1v1h-1zM168,239h1v1h-1zM168,240h1v1h-1zM174,236h1v1h-1zM174,237h1v1h-1zM174,238h1v1h-1zM174,239h1v1h-1zM174,241h1v1h-1zM175,235h1v1h-1zM175,236h1v1h-1zM175,237h1v1h-1zM175,238h1v1h-1zM175,239h1v1h-1zM176,238h1v1h-1zM176,239h1v1h-1zM181,234h1v1h-1zM181,238h1v1h-1zM182,124h1v1h-1zM182,238h1v1h-1zM182,239h1v1h-1zM183,190h1v1h-1zM183,198h1v1h-1zM183,239h1v1h-1zM188,230h1v1h-1zM188,238h1v1h-1zM189,235h1v1h-1zM190,235h1v1h-1zM190,236h1v1h-1zM190,237h1v1h-1zM191,237h1v1h-1zM196,237h1v1h-1zM196,238h1v1h-1zM197,237h1v1h-1zM197,238h1v1h-1zM198,236h1v1h-1zM198,237h1v1h-1zM203,230h1v1h-1zM203,231h1v1h-1zM203,232h1v1h-1zM204,232h1v1h-1zM204,233h1v1h-1zM204,234h1v1h-1zM205,234h1v1h-1zM205,235h1v1h-1zM211,231h1v1h-1zM211,234h1v1h-1zM211,235h1v1h-1zM212,232h1v1h-1zM212,233h1v1h-1zM212,234h1v1h-1zM213,232h1v1h-1zM213,233h1v1h-1zM218,232h1v1h-1zM218,235h1v1h-1zM218,236h1v1h-1zM219,232h1v1h-1zM219,233h1v1h-1zM219,234h1v1h-1zM219,235h1v1h-1zM220,232h1v1h-1zM220,234h1v1h-1zM226,236h1v1h-1zM226,237h1v1h-1zM226,238h1v1h-1zM226,239h1v1h-1zM226,240h1v1h-1zM227,238h1v1h-1zM227,239h1v1h-1zM228,237h1v1h-1zM233,235h1v1h-1zM233,239h1v1h-1zM233,240h1v1h-1zM234,239h1v1h-1zM234,240h1v1h-1zM234,241h1v1h-1zM234,242h1v1h-1zM235,241h1v1h-1zM235,242h1v1h-1zM240,239h1v1h-1zM240,241h1v1h-1zM240,242h1v1h-1zM241,242h1v1h-1zM241,243h1v1h-1zM242,242h1v1h-1zM242,243h1v1h-1zM248,240h1v1h-1zM248,242h1v1h-1zM248,243h1v1h-1zM249,239h1v1h-1zM249,242h1v1h-1zM249,243h1v1h-1zM249,244h1v1h-1zM250,242h1v1h-1zM250,243h1v1h-1zM250,246h1v1h-1zM255,242h1v1h-1zM255,245h1v1h-1zM255,246h1v1h-1zM256,244h1v1h-1zM256,245h1v1h-1zM257,243h1v1h-1zM257,246h1v1h-1zM257,247h1v1h-1zM263,242h1v1h-1zM263,243h1v1h-1zM263,244h1v1h-1zM263,245h1v1h-1zM264,243h1v1h-1zM264,244h1v1h-1zM264,245h1v1h-1zM264,248h1v1h-1zM264,249h1v1h-1zM265,247h1v1h-1zM270,246h1v1h-1zM270,248h1v1h-1zM271,249h1v1h-1zM271,250h1v1h-1zM272,250h1v1h-1zM272,251h1v1h-1zM273,251h1v1h-1zM277,249h1v1h-1zM277,250h1v1h-1zM278,250h1v1h-1zM278,251h1v1h-1zM279,248h1v1h-1zM279,250h1v1h-1zM279,251h1v1h-1zM280,250h1v1h-1zM285,243h1v1h-1zM285,245h1v1h-1zM286,241h1v1h-1zM287,242h1v1h-1zM287,243h1v1h-1zM292,246h1v1h-1zM292,249h1v1h-1zM292,250h1v1h-1zM293,248h1v1h-1zM293,249h1v1h-1zM293,250h1v1h-1zM293,251h1v1h-1zM294,249h1v1h-1zM294,250h1v1h-1zM300,240h1v1h-1zM300,241h1v1h-1zM300,244h1v1h-1zM301,245h1v1h-1zM301,246h1v1h-1zM301,247h1v1h-1zM302,246h1v1h-1zM302,247h1v1h-1zM307,245h1v1h-1zM307,246h1v1h-1zM307,247h1v1h-1zM308,244h1v1h-1zM308,245h1v1h-1zM308,246h1v1h-1zM308,248h1v1h-1zM309,246h1v1h-1zM309,247h1v1h-1zM309,248h1v1h-1zM309,249h1v1h-1zM315,244h1v1h-1zM315,245h1v1h-1zM315,246h1v1h-1zM316,246h1v1h-1zM316,248h1v1h-1zM316,249h1v1h-1zM317,248h1v1h-1zM322,245h1v1h-1zM322,248h1v1h-1zM322,249h1v1h-1zM323,248h1v1h-1zM323,250h1v1h-1zM324,249h1v1h-1zM324,250h1v1h-1zM329,243h1v1h-1zM329,249h1v1h-1zM330,249h1v1h-1zM330,250h1v1h-1zM331,250h1v1h-1zM331,251h1v1h-1zM332,249h1v1h-1zM337,245h1v1h-1zM337,247h1v1h-1zM337,248h1v1h-1zM338,247h1v1h-1zM338,248h1v1h-1zM338,249h1v1h-1zM339,249h1v1h-1zM339,250h1v1h-1zM344,244h1v1h-1zM344,247h1v1h-1zM344,248h1v1h-1zM345,246h1v1h-1zM345,247h1v1h-1zM345,248h1v1h-1zM346,245h1v1h-1zM346,246h1v1h-1zM346,247h1v1h-1zM346,248h1v1h-1zM352,243h1v1h-1zM352,247h1v1h-1zM353,248h1v1h-1zM353,249h1v1h-1zM354,248h1v1h-1zM354,249h1v1h-1zM359,244h1v1h-1zM360,244h1v1h-1zM360,245h1v1h-1zM360,246h1v1h-1zM361,245h1v1h-1zM361,246h1v1h-1zM361,247h1v1h-1zM367,238h1v1h-1zM367,242h1v1h-1zM367,243h1v1h-1zM367,244h1v1h-1zM368,243h1v1h-1zM368,244h1v1h-1zM369,244h1v1h-1zM374,241h1v1h-1zM374,242h1v1h-1zM374,245h1v1h-1zM375,241h1v1h-1zM375,242h1v1h-1zM375,243h1v1h-1zM376,239h1v1h-1zM376,242h1v1h-1zM376,243h1v1h-1zM381,237h1v1h-1zM381,239h1v1h-1zM382,240h1v1h-1zM382,241h1v1h-1zM383,239h1v1h-1zM383,240h1v1h-1zM383,241h1v1h-1zM383,242h1v1h-1zM389,237h1v1h-1zM389,241h1v1h-1zM389,242h1v1h-1zM390,240h1v1h-1zM390,241h1v1h-1zM391,239h1v1h-1zM391,240h1v1h-1zM396,232h1v1h-1zM396,236h1v1h-1zM396,237h1v1h-1zM397,235h1v1h-1zM397,236h1v1h-1zM397,237h1v1h-1zM398,234h1v1h-1zM398,235h1v1h-1zM404,229h1v1h-1zM404,235h1v1h-1zM404,236h1v1h-1zM405,235h1v1h-1zM405,236h1v1h-1zM405,237h1v1h-1zM405,238h1v1h-1zM406,234h1v1h-1zM406,237h1v1h-1zM411,220h1v1h-1zM411,227h1v1h-1zM411,229h1v1h-1zM412,226h1v1h-1zM412,229h1v1h-1zM412,230h1v1h-1zM412,231h1v1h-1zM412,232h1v1h-1zM413,227h1v1h-1zM413,228h1v1h-1zM418,227h1v1h-1zM418,234h1v1h-1zM419,234h1v1h-1zM419,235h1v1h-1zM420,228h1v1h-1zM420,230h1v1h-1zM420,231h1v1h-1zM420,232h1v1h-1zM421,228h1v1h-1zM426,227h1v1h-1zM426,232h1v1h-1zM426,233h1v1h-1zM426,235h1v1h-1zM426,236h1v1h-1zM427,228h1v1h-1zM427,229h1v1h-1zM427,231h1v1h-1zM427,232h1v1h-1zM428,230h1v1h-1zM428,231h1v1h-1zM433,218h1v1h-1zM433,224h1v1h-1zM434,227h1v1h-1zM434,228h1v1h-1zM434,229h1v1h-1zM434,230h1v1h-1zM434,231h1v1h-1zM434,232h1v1h-1zM435,220h1v1h-1zM435,225h1v1h-1zM435,226h1v1h-1zM435,227h1v1h-1zM441,218h1v1h-1zM441,220h1v1h-1zM441,222h1v1h-1zM441,223h1v1h-1zM441,224h1v1h-1zM442,220h1v1h-1zM442,223h1v1h-1zM442,224h1v1h-1zM443,224h1v1h-1zM443,226h1v1h-1zM448,216h1v1h-1zM448,221h1v1h-1zM449,183h1v1h-1zM449,198h1v1h-1zM449,209h1v1h-1zM449,214h1v1h-1zM450,153h1v1h-1zM450,158h1v1h-1zM450,166h1v1h-1zM450,167h1v1h-1zM450,178h1v1h-1zM456,170h1v1h-1zM456,179h1v1h-1zM456,180h1v1h-1zM456,182h1v1h-1zM456,185h1v1h-1zM456,187h1v1h-1zM457,143h1v1h-1zM457,148h1v1h-1zM457,152h1v1h-1zM457,157h1v1h-1zM457,162h1v1h-1zM458,140h1v1h-1zM458,147h1v1h-1zM463,101h1v1h-1zM463,105h1v1h-1zM463,116h1v1h-1zM463,124h1v1h-1zM464,51h1v1h-1zM464,60h1v1h-1zM464,69h1v1h-1zM464,79h1v1h-1zM465,43h1v1h-1zM465,50h1v1h-1zM465,52h1v1h-1zM465,60h1v1h-1zM470,72h1v1h-1zM470,87h1v1h-1zM471,103h1v1h-1zM471,118h1v1h-1zM471,147h1v1h-1zM471,186h1v1h-1zM471,198h1v1h-1zM472,162h1v1h-1zM472,166h1v1h-1zM472,169h1v1h-1zM472,187h1v1h-1zM472,193h1v1h-1zM473,165h1v1h-1zM478,111h1v1h-1zM478,112h1v1h-1zM478,118h1v1h-1zM478,119h1v1h-1zM478,136h1v1h-1zM478,146h1v1h-1zM479,108h1v1h-1zM479,121h1v1h-1zM479,123h1v1h-1zM479,124h1v1h-1zM479,127h1v1h-1zM480,104h1v1h-1zM480,136h1v1h-1zM480,164h1v1h-1zM485,191h1v1h-1zM485,194h1v1h-1zM485,196h1v1h-1zM486,193h1v1h-1zM486,197h1v1h-1zM486,206h1v1h-1zM486,211h1v1h-1zM487,212h1v1h-1zM487,214h1v1h-1zM487,216h1v1h-1zM487,218h1v1h-1zM487,219h1v1h-1zM493,194h1v1h-1zM493,196h1v1h-1zM493,200h1v1h-1zM493,202h1v1h-1zM493,203h1v1h-1zM494,216h1v1h-1zM494,226h1v1h-1zM494,227h1v1h-1zM494,228h1v1h-1zM494,230h1v1h-1zM494,231h1v1h-1zM495,221h1v1h-1zM495,230h1v1h-1zM500,242h1v1h-1zM500,244h1v1h-1zM501,218h1v1h-1zM501,233h1v1h-1zM501,243h1v1h-1zM501,245h1v1h-1zM501,246h1v1h-1zM502,216h1v1h-1zM502,221h1v1h-1zM502,222h1v1h-1zM508,212h1v1h-1zM508,213h1v1h-1zM508,214h1v1h-1zM508,217h1v1h-1zM509,207h1v1h-1zM509,211h1v1h-1zM509,212h1v1h-1zM509,213h1v1h-1zM509,217h1v1h-1zM510,208h1v1h-1zM515,213h1v1h-1zM515,215h1v1h-1zM515,216h1v1h-1zM516,215h1v1h-1zM516,216h1v1h-1zM516,217h1v1h-1zM516,218h1v1h-1zM517,216h1v1h-1zM517,217h1v1h-1zM517,218h1v1h-1zM517,219h1v1h-1zM522,213h1v1h-1zM522,219h1v1h-1zM523,213h1v1h-1zM523,216h1v1h-1zM523,217h1v1h-1zM523,221h1v1h-1zM524,207h1v1h-1zM524,209h1v1h-1zM524,211h1v1h-1zM524,212h1v1h-1zM524,213h1v1h-1zM530,204h1v1h-1zM530,205h1v1h-1zM530,206h1v1h-1zM530,207h1v1h-1zM531,204h1v1h-1zM531,205h1v1h-1zM531,206h1v1h-1zM532,204h1v1h-1zM532,205h1v1h-1zM537,210h1v1h-1zM537,214h1v1h-1zM538,214h1v1h-1zM538,215h1v1h-1zM539,213h1v1h-1zM539,214h1v1h-1zM539,215h1v1h-1zM539,216h1v1h-1zM545,211h1v1h-1zM545,212h1v1h-1zM545,213h1v1h-1zM546,210h1v1h-1zM546,211h1v1h-1zM547,210h1v1h-1zM547,211h1v1h-1zM552,206h1v1h-1zM552,207h1v1h-1zM552,209h1v1h-1zM553,207h1v1h-1zM553,208h1v1h-1zM553,209h1v1h-1zM554,206h1v1h-1zM554,207h1v1h-1zM559,204h1v1h-1zM559,211h1v1h-1zM560,207h1v1h-1zM560,208h1v1h-1zM561,206h1v1h-1zM561,207h1v1h-1zM562,205h1v1h-1zM567,196h1v1h-1zM567,197h1v1h-1zM567,198h1v1h-1zM567,200h1v1h-1zM567,201h1v1h-1zM568,198h1v1h-1zM568,199h1v1h-1zM568,200h1v1h-1zM568,201h1v1h-1zM569,196h1v1h-1zM569,197h1v1h-1zM569,198h1v1h-1zM574,188h1v1h-1zM574,191h1v1h-1zM575,190h1v1h-1zM575,191h1v1h-1zM575,193h1v1h-1zM576,190h1v1h-1zM576,191h1v1h-1zM582,183h1v1h-1zM582,185h1v1h-1zM582,186h1v1h-1zM583,183h1v1h-1zM583,185h1v1h-1zM583,186h1v1h-1zM583,188h1v1h-1zM584,185h1v1h-1zM584,186h1v1h-1zM589,175h1v1h-1zM589,176h1v1h-1zM590,176h1v1h-1zM590,177h1v1h-1zM590,178h1v1h-1zM591,177h1v1h-1zM591,178h1v1h-1zM591,179h1v1h-1zM591,180h1v1h-1zM597,173h1v1h-1zM597,176h1v1h-1zM597,178h1v1h-1zM597,180h1v1h-1zM598,181h1v1h-1zM598,183h1v1h-1zM598,184h1v1h-1zM599,182h1v1h-1zM599,183h1v1h-1zM599,185h1v1h-1zM604,212h1v1h-1zM604,216h1v1h-1zM604,217h1v1h-1zM604,218h1v1h-1zM605,211h1v1h-1zM605,212h1v1h-1zM606,212h1v1h-1zM606,213h1v1h-1zM611,224h1v1h-1zM611,226h1v1h-1zM612,219h1v1h-1zM612,221h1v1h-1zM612,222h1v1h-1zM612,224h1v1h-1zM613,224h1v1h-1zM613,225h1v1h-1zM613,226h1v1h-1zM614,227h1v1h-1zM619,215h1v1h-1zM619,216h1v1h-1zM619,223h1v1h-1zM619,226h1v1h-1zM620,214h1v1h-1zM620,216h1v1h-1zM620,217h1v1h-1zM621,217h1v1h-1zM621,218h1v1h-1zM621,219h1v1h-1zM621,223h1v1h-1zM626,228h1v1h-1zM626,229h1v1h-1zM626,230h1v1h-1zM627,222h1v1h-1zM627,226h1v1h-1zM627,228h1v1h-1zM628,222h1v1h-1zM628,224h1v1h-1zM628,225h1v1h-1zM628,228h1v1h-1zM634,227h1v1h-1zM634,228h1v1h-1zM634,229h1v1h-1zM635,227h1v1h-1zM636,228h1v1h-1zM636,229h1v1h-1zM641,213h1v1h-1zM641,217h1v1h-1zM641,218h1v1h-1zM642,219h1v1h-1zM642,221h1v1h-1zM643,219h1v1h-1zM643,220h1v1h-1zM643,221h1v1h-1zM649,216h1v1h-1zM649,221h1v1h-1zM649,222h1v1h-1zM649,223h1v1h-1zM649,224h1v1h-1zM649,225h1v1h-1zM650,223h1v1h-1zM650,224h1v1h-1zM650,225h1v1h-1zM651,224h1v1h-1zM656,221h1v1h-1zM656,225h1v1h-1zM656,228h1v1h-1zM657,226h1v1h-1zM657,227h1v1h-1zM657,228h1v1h-1zM658,226h1v1h-1zM663,221h1v1h-1zM663,228h1v1h-1zM664,227h1v1h-1zM664,228h1v1h-1zM665,228h1v1h-1zM665,229h1v1h-1zM671,221h1v1h-1zM671,228h1v1h-1zM671,230h1v1h-1zM672,228h1v1h-1zM672,229h1v1h-1zM673,227h1v1h-1zM673,228h1v1h-1zM673,229h1v1h-1zM678,223h1v1h-1zM678,230h1v1h-1zM678,231h1v1h-1zM679,229h1v1h-1zM679,230h1v1h-1zM679,231h1v1h-1zM680,229h1v1h-1zM686,221h1v1h-1zM686,231h1v1h-1zM687,229h1v1h-1zM687,230h1v1h-1zM688,229h1v1h-1zM693,221h1v1h-1zM693,228h1v1h-1zM693,229h1v1h-1zM693,230h1v1h-1zM694,227h1v1h-1zM694,228h1v1h-1zM694,229h1v1h-1zM694,230h1v1h-1zM695,229h1v1h-1zM695,230h1v1h-1zM700,223h1v1h-1zM700,231h1v1h-1zM701,232h1v1h-1zM701,233h1v1h-1zM702,231h1v1h-1zM702,233h1v1h-1zM703,233h1v1h-1zM708,223h1v1h-1zM708,233h1v1h-1zM708,234h1v1h-1zM709,233h1v1h-1zM709,234h1v1h-1zM710,233h1v1h-1zM710,234h1v1h-1zM715,222h1v1h-1zM715,234h1v1h-1zM716,234h1v1h-1zM716,235h1v1h-1zM717,234h1v1h-1zM717,235h1v1h-1zM723,222h1v1h-1zM723,227h1v1h-1zM723,235h1v1h-1zM723,237h1v1h-1zM724,236h1v1h-1zM724,237h1v1h-1zM725,235h1v1h-1zM725,236h1v1h-1zM730,224h1v1h-1zM730,235h1v1h-1zM730,236h1v1h-1zM731,233h1v1h-1zM731,234h1v1h-1zM731,235h1v1h-1zM732,233h1v1h-1zM732,234h1v1h-1zM732,235h1v1h-1zM738,224h1v1h-1zM738,228h1v1h-1zM738,231h1v1h-1zM738,235h1v1h-1zM738,236h1v1h-1zM738,238h1v1h-1zM739,234h1v1h-1zM739,235h1v1h-1zM739,236h1v1h-1zM740,233h1v1h-1zM740,234h1v1h-1zM745,227h1v1h-1zM745,235h1v1h-1zM745,236h1v1h-1zM745,237h1v1h-1zM746,234h1v1h-1zM746,237h1v1h-1zM747,234h1v1h-1zM747,235h1v1h-1zM747,236h1v1h-1zM747,237h1v1h-1zM752,227h1v1h-1zM752,236h1v1h-1zM753,234h1v1h-1zM753,235h1v1h-1zM753,236h1v1h-1zM753,238h1v1h-1zM754,231h1v1h-1zM754,232h1v1h-1zM754,233h1v1h-1zM754,234h1v1h-1zM755,231h1v1h-1zM760,228h1v1h-1zM760,232h1v1h-1zM760,235h1v1h-1zM760,236h1v1h-1zM760,237h1v1h-1zM761,235h1v1h-1zM761,236h1v1h-1zM761,237h1v1h-1zM762,235h1v1h-1zM762,236h1v1h-1zM762,237h1v1h-1zM767,224h1v1h-1zM767,235h1v1h-1zM768,234h1v1h-1zM768,235h1v1h-1zM768,236h1v1h-1zM769,236h1v1h-1zM769,237h1v1h-1zM769,238h1v1h-1zM775,229h1v1h-1zM775,236h1v1h-1zM775,237h1v1h-1zM775,238h1v1h-1zM776,236h1v1h-1zM776,237h1v1h-1zM776,238h1v1h-1zM777,235h1v1h-1zM782,249h1v1h-1zM782,250h1v1h-1zM782,252h1v1h-1zM783,250h1v1h-1zM784,249h1v1h-1zM784,250h1v1h-1zM789,252h1v1h-1zM790,233h1v1h-1zM790,240h1v1h-1zM790,246h1v1h-1zM790,248h1v1h-1zM790,249h1v1h-1zM791,227h1v1h-1zM791,228h1v1h-1zM791,229h1v1h-1zM791,231h1v1h-1zM792,226h1v1h-1zM797,224h1v1h-1zM797,231h1v1h-1zM797,233h1v1h-1zM797,234h1v1h-1zM798,227h1v1h-1zM798,232h1v1h-1zM798,233h1v1h-1zM798,234h1v1h-1zM798,235h1v1h-1zM799,226h1v1h-1zM799,233h1v1h-1zM799,234h1v1h-1zM804,222h1v1h-1zM804,234h1v1h-1zM805,233h1v1h-1zM805,234h1v1h-1zM805,237h1v1h-1zM806,233h1v1h-1zM806,236h1v1h-1zM806,237h1v1h-1zM806,238h1v1h-1zM812,109h1v1h-1zM812,120h1v1h-1zM812,125h1v1h-1zM812,129h1v1h-1zM812,135h1v1h-1zM812,136h1v1h-1zM813,110h1v1h-1zM813,125h1v1h-1zM813,127h1v1h-1zM813,136h1v1h-1zM814,104h1v1h-1zM814,110h1v1h-1zM819,129h1v1h-1zM819,154h1v1h-1zM819,156h1v1h-1zM820,144h1v1h-1zM820,171h1v1h-1zM820,174h1v1h-1zM820,186h1v1h-1zM820,190h1v1h-1zM821,180h1v1h-1zM821,183h1v1h-1zM821,184h1v1h-1zM821,189h1v1h-1zM821,195h1v1h-1zM827,193h1v1h-1zM827,196h1v1h-1zM827,197h1v1h-1zM827,198h1v1h-1zM827,205h1v1h-1zM827,207h1v1h-1zM828,198h1v1h-1zM828,203h1v1h-1zM828,205h1v1h-1zM828,211h1v1h-1zM828,216h1v1h-1zM829,212h1v1h-1zM829,214h1v1h-1zM834,197h1v1h-1zM834,211h1v1h-1zM834,213h1v1h-1zM834,216h1v1h-1zM835,202h1v1h-1zM835,212h1v1h-1zM835,214h1v1h-1zM836,216h1v1h-1zM836,218h1v1h-1zM836,219h1v1h-1zM836,220h1v1h-1zM841,223h1v1h-1zM841,229h1v1h-1zM842,225h1v1h-1zM842,233h1v1h-1zM842,234h1v1h-1zM842,235h1v1h-1zM843,236h1v1h-1zM844,236h1v1h-1zM849,232h1v1h-1zM849,240h1v1h-1zM849,241h1v1h-1zM850,240h1v1h-1zM850,241h1v1h-1zM851,241h1v1h-1zM851,242h1v1h-1zM856,237h1v1h-1zM856,242h1v1h-1zM857,241h1v1h-1zM857,242h1v1h-1zM857,243h1v1h-1zM858,241h1v1h-1zM858,243h1v1h-1zM864,235h1v1h-1zM864,243h1v1h-1zM864,244h1v1h-1zM865,243h1v1h-1zM865,244h1v1h-1zM865,245h1v1h-1zM866,243h1v1h-1zM866,245h1v1h-1zM871,238h1v1h-1zM871,245h1v1h-1zM872,244h1v1h-1zM872,245h1v1h-1zM873,245h1v1h-1zM873,247h1v1h-1zM879,240h1v1h-1zM879,245h1v1h-1zM879,247h1v1h-1z" fill="#007800" shape-rendering="crispEdges"/>
</svg>
</body></html>
